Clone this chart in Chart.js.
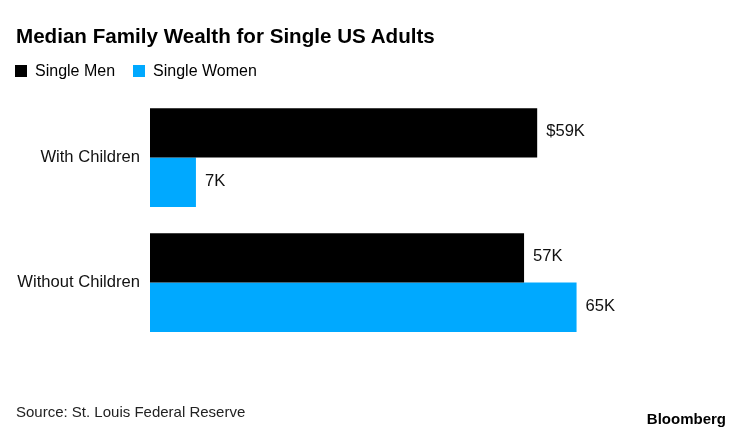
<!DOCTYPE html>
<html>
<head>
<meta charset="utf-8">
<script src="https://cdn.jsdelivr.net/npm/chart.js@4"></script>
<style>
  html, body { margin: 0; padding: 0; background: #fff; }
  body { width: 739px; height: 432px; position: relative; overflow: hidden; font-family: "Liberation Sans", Arial, sans-serif; color: #000; }
  #wrap { position: absolute; left: 0; top: 0; width: 739px; height: 432px; }
  .txt { position: absolute; white-space: nowrap; }
  #title { left: 16px; top: 26px; font-size: 20.6px; line-height: 20px; font-weight: bold; }
  #legend { left: 15px; top: 63px; font-size: 16px; line-height: 16px; }
  #legend span.item { display: inline-block; margin-right: 18px; }
  #legend span.box { display: inline-block; width: 12px; height: 12px; margin-right: 8px; vertical-align: -1px; }
  #source { left: 16px; top: 404px; font-size: 15px; line-height: 15px; color: #222; }
  #logo { right: 13px; top: 411px; font-size: 15px; line-height: 15px; font-weight: bold; }
</style>
</head>
<body>
<div id="wrap"><canvas id="c" width="739" height="432"></canvas></div>
<div class="txt" id="title">Median Family Wealth for Single US Adults</div>
<div class="txt" id="legend"></div>
<div class="txt" id="source">Source: St. Louis Federal Reserve</div>
<div class="txt" id="logo">Bloomberg</div>
<script>
const categories = ["With Children", "Without Children"];
const seriesNames = ["Single Men", "Single Women"];
const menValues = [59, 57];
const womenValues = [7, 65];
const menLabels = ["$59K", "57K"];
const womenLabels = ["7K", "65K"];
const colors = ["#000000", "#00a9ff"];

const valueLabels = {
  id: "valueLabels",
  afterDatasetsDraw(chart) {
    const ctx = chart.ctx;
    ctx.save();
    ctx.font = "16.6px 'Liberation Sans', Arial, sans-serif";
    ctx.fillStyle = "#111";
    ctx.textBaseline = "middle";
    ctx.textAlign = "left";
    chart.data.datasets.forEach((ds, di) => {
      const meta = chart.getDatasetMeta(di);
      meta.data.forEach((bar, i) => {
        ctx.fillText(ds.valueText[i], bar.x + 9, bar.y - 1);
      });
    });
    ctx.restore();
  }
};

const chart = new Chart(document.getElementById("c"), {
  type: "bar",
  data: {
    labels: categories,
    datasets: [
      { label: seriesNames[0], data: menValues, valueText: menLabels, backgroundColor: colors[0], borderWidth: 0 },
      { label: seriesNames[1], data: womenValues, valueText: womenLabels, backgroundColor: colors[1], borderWidth: 0 }
    ]
  },
  options: {
    indexAxis: "y",
    responsive: false,
    animation: false,
    devicePixelRatio: 1,
    layout: { padding: { left: 0, right: 64, top: 95, bottom: 87 } },
    datasets: { bar: { categoryPercentage: 0.79, barPercentage: 1 } },
    plugins: { legend: { display: false }, title: { display: false }, tooltip: { enabled: false } },
    scales: {
      x: { display: false, min: 0, max: 80 },
      y: {
        grid: { display: false, drawTicks: false },
        border: { display: false },
        ticks: { padding: 10, color: "#111", font: { family: "'Liberation Sans', Arial, sans-serif", size: 16.6 } },
        afterFit(scale) { scale.width = 150; }
      }
    }
  },
  plugins: [valueLabels]
});

const legend = document.getElementById("legend");
chart.data.datasets.forEach(ds => {
  const item = document.createElement("span");
  item.className = "item";
  const box = document.createElement("span");
  box.className = "box";
  box.style.background = ds.backgroundColor;
  item.appendChild(box);
  item.appendChild(document.createTextNode(ds.label));
  legend.appendChild(item);
});
</script>
</body>
</html>
